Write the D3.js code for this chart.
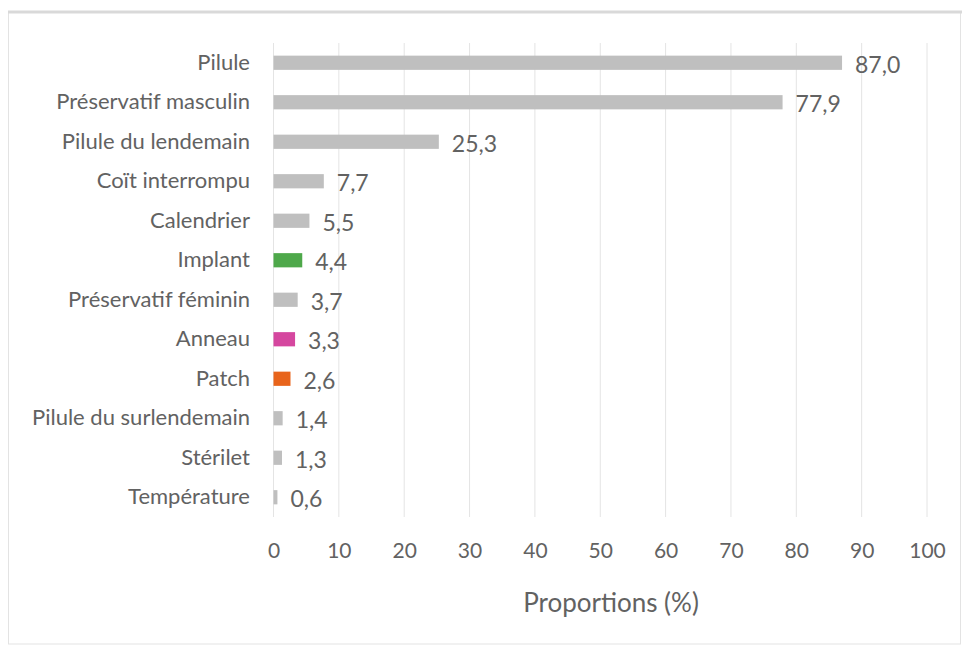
<!DOCTYPE html>
<html>
<head>
<meta charset="utf-8">
<script src="https://cdn.jsdelivr.net/npm/d3@7"></script>
<style>
  body { margin: 0; background: #fff; }
  svg text { font-family: Lato, "Open Sans", sans-serif; fill: #626262; }
</style>
</head>
<body>
<svg id="chart" width="962" height="646"></svg>
<script>
const categories = ['Pilule', 'Préservatif masculin', 'Pilule du lendemain', 'Coït interrompu',
  'Calendrier', 'Implant', 'Préservatif féminin', 'Anneau', 'Patch',
  'Pilule du surlendemain', 'Stérilet', 'Température'];
const values = [87.0, 77.9, 25.3, 7.7, 5.5, 4.4, 3.7, 3.3, 2.6, 1.4, 1.3, 0.6];
const barColors = ['#bfbfbf', '#bfbfbf', '#bfbfbf', '#bfbfbf', '#bfbfbf', '#4ea84a',
  '#bfbfbf', '#d5479f', '#e8641b', '#bfbfbf', '#bfbfbf', '#bfbfbf'];
const xTicks = [0, 10, 20, 30, 40, 50, 60, 70, 80, 90, 100];

const rows = categories.map((c, i) => ({ name: c, value: values[i], color: barColors[i] }));

const svg = d3.select('#chart');

// outer frame
svg.append('rect')
  .attr('x', 8.5).attr('y', 12)
  .attr('width', 952).attr('height', 632)
  .attr('fill', 'none').attr('stroke', '#e3e3e3').attr('stroke-width', 1);
svg.append('line')
  .attr('x1', 8).attr('x2', 962).attr('y1', 12).attr('y2', 12)
  .attr('stroke', '#d9d9d9').attr('stroke-width', 3);

const x = d3.scaleLinear().domain([0, 100]).range([273.5, 927]);
const y = d3.scaleBand().domain(categories).range([43, 517]).paddingInner(0.64).paddingOuter(0.32);

// gridlines
svg.append('g')
  .selectAll('line')
  .data(xTicks)
  .enter()
  .append('line')
  .attr('x1', (d) => x(d)).attr('x2', (d) => x(d))
  .attr('y1', 43).attr('y2', 517)
  .attr('stroke', '#e4e4e4').attr('stroke-width', 1);

// x tick labels
const xAxis = svg.append('g')
  .attr('transform', 'translate(0,517)')
  .call(d3.axisBottom(x).tickValues(xTicks).tickSize(0).tickPadding(26));
xAxis.select('.domain').remove();
xAxis.selectAll('text')
  .attr('font-size', '21px')
  .style('font-family', 'Lato, "Open Sans", sans-serif')
  .attr('fill', '#626262');

// category labels
const yAxis = svg.append('g')
  .attr('transform', 'translate(273,0)')
  .call(d3.axisLeft(y).tickSize(0).tickPadding(23));
yAxis.select('.domain').remove();
yAxis.selectAll('text')
  .attr('font-size', '22px')
  .style('font-family', 'Lato, "Open Sans", sans-serif')
  .attr('fill', '#626262');

// bars
svg.append('g')
  .selectAll('rect')
  .data(rows)
  .enter()
  .append('rect')
  .attr('x', x(0))
  .attr('y', (d) => y(d.name))
  .attr('width', (d) => x(d.value) - x(0))
  .attr('height', y.bandwidth())
  .attr('fill', (d) => d.color);

// value labels
svg.append('g')
  .selectAll('text')
  .data(rows)
  .enter()
  .append('text')
  .attr('x', (d) => x(d.value) + 13)
  .attr('y', (d) => y(d.name) + y.bandwidth() / 2 + 2)
  .attr('dy', '0.35em')
  .attr('font-size', '23px')
  .text((d) => d3.format('.1f')(d.value).replace('.', ','));

// axis title
svg.append('text')
  .attr('x', 611).attr('y', 612)
  .attr('text-anchor', 'middle')
  .attr('font-size', '26px')
  .text('Proportions (%)');
</script>
</body>
</html>
